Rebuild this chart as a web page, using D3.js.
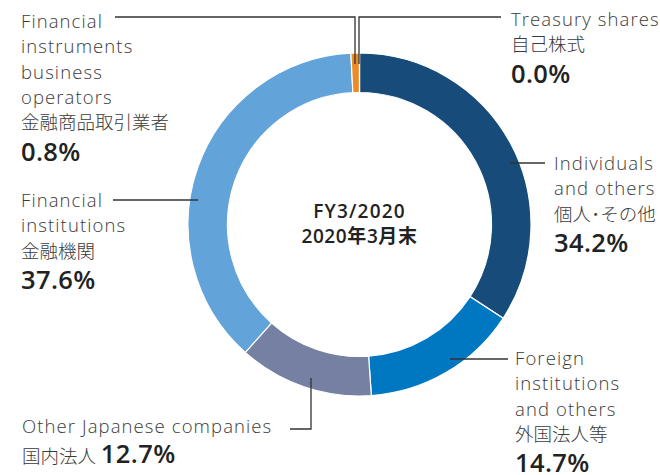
<!DOCTYPE html>
<html>
<head>
<meta charset="utf-8">
<script src="https://cdn.jsdelivr.net/npm/d3@7"></script>
<style>
  body { margin: 0; background: #fff; }
  svg { display: block; font-family: "Open Sans", "Noto Sans CJK JP", sans-serif; }
</style>
</head>
<body>
<div id="chart"></div>
<script>
const categories = [
  "Individuals and others",
  "Foreign institutions and others",
  "Other Japanese companies",
  "Financial institutions",
  "Financial instruments business operators",
  "Treasury shares"
];
const categoriesJa = ["個人･その他", "外国法人等", "国内法人", "金融機関", "金融商品取引業者", "自己株式"];
const shares = [34.2, 14.7, 12.7, 37.6, 0.8, 0.0];
const colors = ["#174c7a", "#0078c1", "#7580a3", "#62a3d9", "#f08a24", "#f08a24"];
const centerTitle = ["FY3/2020", "2020年3月末"];

// label layout: text lines, anchor position, leader polyline
const labels = [
  { x: 554, y: 170, lines: ["Individuals", "and others", categoriesJa[0]], pct: 0,
    leader: [[510, 163], [545, 163]] },
  { x: 515, y: 365, lines: ["Foreign", "institutions", "and others", categoriesJa[1]], pct: 1,
    leader: [[450, 359], [508, 359]] },
  { x: 22, y: 433, lines: ["Other Japanese companies"], pct: 2, inline: categoriesJa[2],
    leader: [[311, 378], [311, 429], [290, 429]] },
  { x: 21, y: 207, lines: ["Financial", "institutions", categoriesJa[3]], pct: 3,
    leader: [[198, 200], [113, 200]] },
  { x: 21, y: 28, lines: ["Financial", "instruments", "business", "operators", categoriesJa[4]], pct: 4,
    leader: [[355, 64], [355, 17], [115, 17]] },
  { x: 511, y: 26, lines: ["Treasury shares", categoriesJa[5]], pct: 5,
    leader: [[359, 64], [359, 17], [501, 17]] }
];

const width = 660;
const height = 475;
const cx = 359.5, cy = 224.5;
const outerR = 171.5, innerR = 132;

const svg = d3.select("#chart").append("svg")
  .attr("width", width).attr("height", height)
  .attr("viewBox", [0, 0, width, height]);

const pie = d3.pie().sort(null).value(d => d);
const arc = d3.arc().innerRadius(innerR).outerRadius(outerR);

const g = svg.append("g").attr("transform", `translate(${cx},${cy})`);

g.selectAll("path")
  .data(pie(shares))
  .enter()
  .append("path")
  .attr("d", arc)
  .attr("fill", (d, i) => colors[i])
  .attr("stroke", "white")
  .attr("stroke-width", 1.2);

// center text
g.selectAll("text.center")
  .data(centerTitle)
  .enter()
  .append("text")
  .attr("class", "center")
  .attr("text-anchor", "middle")
  .attr("y", (d, i) => -7 + i * 25)
  .attr("font-size", 19)
  .attr("font-weight", 600)
  .attr("letter-spacing", (d, i) => i === 0 ? 1.2 : 0.6)
  .attr("fill", "#222")
  .text(d => d);

// leaders
const line = d3.line();
svg.selectAll("path.leader")
  .data(labels)
  .enter()
  .append("path")
  .attr("class", "leader")
  .attr("d", d => line(d.leader))
  .attr("fill", "none")
  .attr("stroke", "#333")
  .attr("stroke-width", 1.3);

// labels
const lineH = 25.3;
const isLatin = s => /^[\x00-\x7f]+$/.test(s);
labels.forEach(l => {
  const t = svg.append("text")
    .attr("x", l.x).attr("y", l.y)
    .attr("fill", "#3a3a3a")
    .attr("font-size", 18.5)
    .attr("font-weight", 300);
  l.lines.forEach((s, i) => {
    t.append("tspan")
      .attr("x", l.x).attr("y", l.y + i * lineH)
      .attr("letter-spacing", isLatin(s) ? 1.1 : 0)
      .text(s);
  });
  const pctText = shares[l.pct].toFixed(1) + "%";
  if (l.inline) {
    const t2 = svg.append("text")
      .attr("x", l.x).attr("y", l.y + 30)
      .attr("fill", "#3a3a3a");
    t2.append("tspan").attr("font-size", 18.5).attr("font-weight", 300).text(l.inline + " ");
    t2.append("tspan").attr("font-size", 25.5).attr("font-weight", 600)
      .attr("letter-spacing", 0.4).attr("fill", "#222").text(pctText);
  } else {
    svg.append("text")
      .attr("x", l.x)
      .attr("y", l.y + (l.lines.length - 1) * lineH + 31.5)
      .attr("font-size", 25.5)
      .attr("font-weight", 600)
      .attr("letter-spacing", 0.4)
      .attr("fill", "#222")
      .text(pctText);
  }
});
</script>
</body>
</html>
